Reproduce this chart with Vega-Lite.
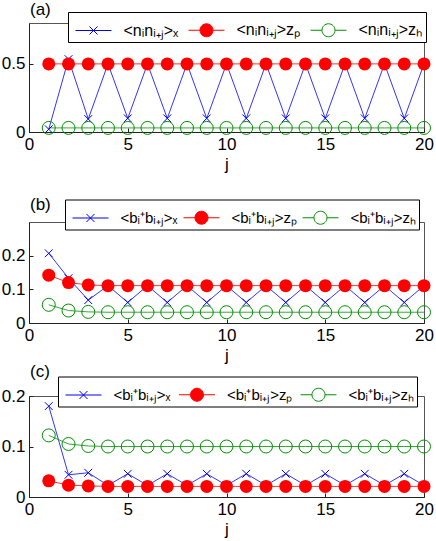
{
  "$schema": "https://vega.github.io/schema/vega-lite/v6.json",
  "padding": {"left": 0, "top": 0, "right": 0, "bottom": 0},
  "spacing": -2,
  "resolve": {"scale": {"color": "independent", "x": "independent", "y": "independent"}, "legend": {"color": "independent"}},
  "config": {
    "font": "Liberation Sans",
    "view": {"stroke": "#555555", "strokeWidth": 1},
    "axis": {"labelFont": "Liberation Sans", "labelFontSize": 17, "labelColor": "#000000", "titleFont": "Liberation Sans", "titleFontSize": 17, "titleFontWeight": "normal", "titleColor": "#000000", "domainColor": "#222222", "tickColor": "#222222", "tickSize": -4, "labelPadding": 8, "grid": false, "labelFlush": false, "format": ".1~f"},
    "axisX": {"labelPadding": 8, "titlePadding": 4},
    "title": {"font": "Liberation Sans", "fontSize": 17, "fontWeight": "normal", "anchor": "start", "frame": "group", "color": "#000000"},
    "legend": {"orient": "none", "direction": "horizontal", "title": null, "strokeColor": "#000000", "fillColor": "#ffffff", "padding": 3, "symbolSize": 841, "symbolOffset": 7.5, "symbolStrokeWidth": 1, "labelFont": "Liberation Sans", "labelFontSize": 16, "labelColor": "#000000", "labelOffset": 15, "columnPadding": 5, "labelLimit": 300}
  },
  "datasets": {
    "a": [
      {"j":1,"s":"x","v":0.02},{"j":2,"s":"x","v":0.535},{"j":3,"s":"x","v":0.095},{"j":4,"s":"x","v":0.5},{"j":5,"s":"x","v":0.1},{"j":6,"s":"x","v":0.5},{"j":7,"s":"x","v":0.1},{"j":8,"s":"x","v":0.5},{"j":9,"s":"x","v":0.1},{"j":10,"s":"x","v":0.5},{"j":11,"s":"x","v":0.1},{"j":12,"s":"x","v":0.5},{"j":13,"s":"x","v":0.1},{"j":14,"s":"x","v":0.5},{"j":15,"s":"x","v":0.1},{"j":16,"s":"x","v":0.5},{"j":17,"s":"x","v":0.1},{"j":18,"s":"x","v":0.5},{"j":19,"s":"x","v":0.1},{"j":20,"s":"x","v":0.5},
      {"j":1,"s":"zp","v":0.5},{"j":2,"s":"zp","v":0.5},{"j":3,"s":"zp","v":0.5},{"j":4,"s":"zp","v":0.5},{"j":5,"s":"zp","v":0.5},{"j":6,"s":"zp","v":0.5},{"j":7,"s":"zp","v":0.5},{"j":8,"s":"zp","v":0.5},{"j":9,"s":"zp","v":0.5},{"j":10,"s":"zp","v":0.5},{"j":11,"s":"zp","v":0.5},{"j":12,"s":"zp","v":0.5},{"j":13,"s":"zp","v":0.5},{"j":14,"s":"zp","v":0.5},{"j":15,"s":"zp","v":0.5},{"j":16,"s":"zp","v":0.5},{"j":17,"s":"zp","v":0.5},{"j":18,"s":"zp","v":0.5},{"j":19,"s":"zp","v":0.5},{"j":20,"s":"zp","v":0.5},
      {"j":1,"s":"zh","v":0.03},{"j":2,"s":"zh","v":0.03},{"j":3,"s":"zh","v":0.03},{"j":4,"s":"zh","v":0.03},{"j":5,"s":"zh","v":0.03},{"j":6,"s":"zh","v":0.03},{"j":7,"s":"zh","v":0.03},{"j":8,"s":"zh","v":0.03},{"j":9,"s":"zh","v":0.03},{"j":10,"s":"zh","v":0.03},{"j":11,"s":"zh","v":0.03},{"j":12,"s":"zh","v":0.03},{"j":13,"s":"zh","v":0.03},{"j":14,"s":"zh","v":0.03},{"j":15,"s":"zh","v":0.03},{"j":16,"s":"zh","v":0.03},{"j":17,"s":"zh","v":0.03},{"j":18,"s":"zh","v":0.03},{"j":19,"s":"zh","v":0.03},{"j":20,"s":"zh","v":0.03}
    ],
    "b": [
      {"j":1,"s":"x","v":0.207},{"j":2,"s":"x","v":0.133},{"j":3,"s":"x","v":0.068},{"j":4,"s":"x","v":0.111},{"j":5,"s":"x","v":0.061},{"j":6,"s":"x","v":0.111},{"j":7,"s":"x","v":0.061},{"j":8,"s":"x","v":0.111},{"j":9,"s":"x","v":0.061},{"j":10,"s":"x","v":0.111},{"j":11,"s":"x","v":0.061},{"j":12,"s":"x","v":0.111},{"j":13,"s":"x","v":0.061},{"j":14,"s":"x","v":0.111},{"j":15,"s":"x","v":0.061},{"j":16,"s":"x","v":0.111},{"j":17,"s":"x","v":0.061},{"j":18,"s":"x","v":0.111},{"j":19,"s":"x","v":0.061},{"j":20,"s":"x","v":0.111},
      {"j":1,"s":"zp","v":0.142},{"j":2,"s":"zp","v":0.12},{"j":3,"s":"zp","v":0.113},{"j":4,"s":"zp","v":0.111},{"j":5,"s":"zp","v":0.111},{"j":6,"s":"zp","v":0.111},{"j":7,"s":"zp","v":0.111},{"j":8,"s":"zp","v":0.111},{"j":9,"s":"zp","v":0.111},{"j":10,"s":"zp","v":0.111},{"j":11,"s":"zp","v":0.111},{"j":12,"s":"zp","v":0.111},{"j":13,"s":"zp","v":0.111},{"j":14,"s":"zp","v":0.111},{"j":15,"s":"zp","v":0.111},{"j":16,"s":"zp","v":0.111},{"j":17,"s":"zp","v":0.111},{"j":18,"s":"zp","v":0.111},{"j":19,"s":"zp","v":0.111},{"j":20,"s":"zp","v":0.111},
      {"j":1,"s":"zh","v":0.054},{"j":2,"s":"zh","v":0.037},{"j":3,"s":"zh","v":0.033},{"j":4,"s":"zh","v":0.032},{"j":5,"s":"zh","v":0.032},{"j":6,"s":"zh","v":0.032},{"j":7,"s":"zh","v":0.032},{"j":8,"s":"zh","v":0.032},{"j":9,"s":"zh","v":0.032},{"j":10,"s":"zh","v":0.032},{"j":11,"s":"zh","v":0.032},{"j":12,"s":"zh","v":0.032},{"j":13,"s":"zh","v":0.032},{"j":14,"s":"zh","v":0.032},{"j":15,"s":"zh","v":0.032},{"j":16,"s":"zh","v":0.032},{"j":17,"s":"zh","v":0.032},{"j":18,"s":"zh","v":0.032},{"j":19,"s":"zh","v":0.032},{"j":20,"s":"zh","v":0.032}
    ],
    "c": [
      {"j":1,"s":"x","v":0.18},{"j":2,"s":"x","v":0.044},{"j":3,"s":"x","v":0.048},{"j":4,"s":"x","v":0.023},{"j":5,"s":"x","v":0.046},{"j":6,"s":"x","v":0.023},{"j":7,"s":"x","v":0.046},{"j":8,"s":"x","v":0.023},{"j":9,"s":"x","v":0.046},{"j":10,"s":"x","v":0.023},{"j":11,"s":"x","v":0.046},{"j":12,"s":"x","v":0.023},{"j":13,"s":"x","v":0.046},{"j":14,"s":"x","v":0.023},{"j":15,"s":"x","v":0.046},{"j":16,"s":"x","v":0.023},{"j":17,"s":"x","v":0.046},{"j":18,"s":"x","v":0.023},{"j":19,"s":"x","v":0.046},{"j":20,"s":"x","v":0.023},
      {"j":1,"s":"zp","v":0.032},{"j":2,"s":"zp","v":0.0235},{"j":3,"s":"zp","v":0.022},{"j":4,"s":"zp","v":0.021},{"j":5,"s":"zp","v":0.021},{"j":6,"s":"zp","v":0.021},{"j":7,"s":"zp","v":0.021},{"j":8,"s":"zp","v":0.021},{"j":9,"s":"zp","v":0.021},{"j":10,"s":"zp","v":0.021},{"j":11,"s":"zp","v":0.021},{"j":12,"s":"zp","v":0.021},{"j":13,"s":"zp","v":0.021},{"j":14,"s":"zp","v":0.021},{"j":15,"s":"zp","v":0.021},{"j":16,"s":"zp","v":0.021},{"j":17,"s":"zp","v":0.021},{"j":18,"s":"zp","v":0.021},{"j":19,"s":"zp","v":0.021},{"j":20,"s":"zp","v":0.021},
      {"j":1,"s":"zh","v":0.122},{"j":2,"s":"zh","v":0.105},{"j":3,"s":"zh","v":0.101},{"j":4,"s":"zh","v":0.1},{"j":5,"s":"zh","v":0.1},{"j":6,"s":"zh","v":0.1},{"j":7,"s":"zh","v":0.1},{"j":8,"s":"zh","v":0.1},{"j":9,"s":"zh","v":0.1},{"j":10,"s":"zh","v":0.1},{"j":11,"s":"zh","v":0.1},{"j":12,"s":"zh","v":0.1},{"j":13,"s":"zh","v":0.1},{"j":14,"s":"zh","v":0.1},{"j":15,"s":"zh","v":0.1},{"j":16,"s":"zh","v":0.1},{"j":17,"s":"zh","v":0.1},{"j":18,"s":"zh","v":0.1},{"j":19,"s":"zh","v":0.1},{"j":20,"s":"zh","v":0.1}
    ]
  },
  "vconcat": [
    {
      "width": 395, "height": 109,
      "title": {"text": "(a)", "offset": -7, "dx": 1},
      "data": {"name": "a"},
      "encoding": {
        "x": {"field": "j", "type": "quantitative", "scale": {"domain": [0, 20], "nice": false}, "axis": {"values": [0, 5, 10, 15, 20], "title": ["j", ""], "titleLineHeight": 24}},
        "y": {"field": "v", "type": "quantitative", "scale": {"domain": [0, 0.8], "nice": false}, "axis": {"values": [0, 0.5], "title": null}},
        "color": {"field": "s", "type": "nominal", "scale": {"domain": ["x", "zp", "zh"], "range": ["#0000ff", "#ff0000", "#009000"]},
          "legend": {"legendX": 39, "legendY": -11,
            "labelExpr": "datum.value === 'x' ? '<nᵢnᵢ₊ⱼ>ₓ' : datum.value === 'zp' ? '<nᵢnᵢ₊ⱼ>zₚ' : '<nᵢnᵢ₊ⱼ>zₕ'",
            "encode": {"symbols": {"update": {
              "shape": {"signal": "datum.index === 0 ? 'M-1.241,0L1.241,0M-0.276,-0.276L0.276,0.276M-0.276,0.276L0.276,-0.276' : 'M-1.241,0L-0.448,0A0.448,0.448 0 1,1 0.448,0A0.448,0.448 0 1,1 -0.448,0M0.448,0L1.241,0'"},
              "fillOpacity": {"signal": "datum.index === 1 ? 1 : 0"},
              "fill": {"signal": "datum.index === 1 ? '#ff0000' : 'transparent'"},
              "stroke": {"signal": "datum.index === 0 ? '#0000ff' : datum.index === 1 ? '#ff0000' : '#009000'"},
              "opacity": {"value": 1}}}}}}
      },
      "layer": [
        {"mark": {"type": "line", "strokeWidth": 0.8}},
        {"transform": [{"filter": "datum.s === 'x'"}], "mark": {"type": "point", "shape": "M-0.6,-0.6L0.6,0.6M-0.6,0.6L0.6,-0.6", "size": 169, "opacity": 1, "strokeWidth": 1}},
        {"transform": [{"filter": "datum.s === 'zp'"}], "mark": {"type": "point", "shape": "circle", "filled": true, "size": 169, "opacity": 1, "strokeWidth": 1}},
        {"transform": [{"filter": "datum.s === 'zh'"}], "mark": {"type": "point", "shape": "circle", "size": 169, "opacity": 1, "strokeWidth": 1}}
      ]
    },
    {
      "width": 395, "height": 101,
      "title": {"text": "(b)", "offset": -15, "dx": 1},
      "data": {"name": "b"},
      "encoding": {
        "x": {"field": "j", "type": "quantitative", "scale": {"domain": [0, 20], "nice": false}, "axis": {"values": [0, 5, 10, 15, 20], "title": "j"}},
        "y": {"field": "v", "type": "quantitative", "scale": {"domain": [0, 0.3], "nice": false}, "axis": {"values": [0, 0.1, 0.2], "title": null}},
        "color": {"field": "s", "type": "nominal", "scale": {"domain": ["x", "zp", "zh"], "range": ["#0000ff", "#ff0000", "#009000"]},
          "legend": {"legendX": 36, "legendY": -22.5, "labelFontSize": 15, "columnPadding": 1,
            "labelExpr": "datum.value === 'x' ? '<bᵢ⁺bᵢ₊ⱼ>ₓ' : datum.value === 'zp' ? '<bᵢ⁺bᵢ₊ⱼ>zₚ' : '<bᵢ⁺bᵢ₊ⱼ>zₕ'",
            "encode": {"symbols": {"update": {
              "shape": {"signal": "datum.index === 0 ? 'M-1.241,0L1.241,0M-0.276,-0.276L0.276,0.276M-0.276,0.276L0.276,-0.276' : 'M-1.241,0L-0.448,0A0.448,0.448 0 1,1 0.448,0A0.448,0.448 0 1,1 -0.448,0M0.448,0L1.241,0'"},
              "fillOpacity": {"signal": "datum.index === 1 ? 1 : 0"},
              "fill": {"signal": "datum.index === 1 ? '#ff0000' : 'transparent'"},
              "stroke": {"signal": "datum.index === 0 ? '#0000ff' : datum.index === 1 ? '#ff0000' : '#009000'"},
              "opacity": {"value": 1}}}}}}
      },
      "layer": [
        {"mark": {"type": "line", "strokeWidth": 0.8}},
        {"transform": [{"filter": "datum.s === 'x'"}], "mark": {"type": "point", "shape": "M-0.6,-0.6L0.6,0.6M-0.6,0.6L0.6,-0.6", "size": 169, "opacity": 1, "strokeWidth": 1}},
        {"transform": [{"filter": "datum.s === 'zp'"}], "mark": {"type": "point", "shape": "circle", "filled": true, "size": 169, "opacity": 1, "strokeWidth": 1}},
        {"transform": [{"filter": "datum.s === 'zh'"}], "mark": {"type": "point", "shape": "circle", "size": 169, "opacity": 1, "strokeWidth": 1}}
      ]
    },
    {
      "width": 395, "height": 101,
      "title": {"text": "(c)", "offset": -5, "dx": 1},
      "data": {"name": "c"},
      "encoding": {
        "x": {"field": "j", "type": "quantitative", "scale": {"domain": [0, 20], "nice": false}, "axis": {"values": [0, 5, 10, 15, 20], "title": "j"}},
        "y": {"field": "v", "type": "quantitative", "scale": {"domain": [0, 0.2], "nice": false}, "axis": {"values": [0, 0.1, 0.2], "title": null}},
        "color": {"field": "s", "type": "nominal", "scale": {"domain": ["x", "zp", "zh"], "range": ["#0000ff", "#ff0000", "#009000"]},
          "legend": {"legendX": 29, "legendY": -19.5, "labelFontSize": 15, "columnPadding": 3.5,
            "labelExpr": "datum.value === 'x' ? '<bᵢ⁺bᵢ₊ⱼ>ₓ' : datum.value === 'zp' ? '<bᵢ⁺bᵢ₊ⱼ>zₚ' : '<bᵢ⁺bᵢ₊ⱼ>zₕ'",
            "encode": {"symbols": {"update": {
              "shape": {"signal": "datum.index === 0 ? 'M-1.241,0L1.241,0M-0.276,-0.276L0.276,0.276M-0.276,0.276L0.276,-0.276' : 'M-1.241,0L-0.448,0A0.448,0.448 0 1,1 0.448,0A0.448,0.448 0 1,1 -0.448,0M0.448,0L1.241,0'"},
              "fillOpacity": {"signal": "datum.index === 1 ? 1 : 0"},
              "fill": {"signal": "datum.index === 1 ? '#ff0000' : 'transparent'"},
              "stroke": {"signal": "datum.index === 0 ? '#0000ff' : datum.index === 1 ? '#ff0000' : '#009000'"},
              "opacity": {"value": 1}}}}}}
      },
      "layer": [
        {"mark": {"type": "line", "strokeWidth": 0.8}},
        {"transform": [{"filter": "datum.s === 'x'"}], "mark": {"type": "point", "shape": "M-0.6,-0.6L0.6,0.6M-0.6,0.6L0.6,-0.6", "size": 169, "opacity": 1, "strokeWidth": 1}},
        {"transform": [{"filter": "datum.s === 'zp'"}], "mark": {"type": "point", "shape": "circle", "filled": true, "size": 169, "opacity": 1, "strokeWidth": 1}},
        {"transform": [{"filter": "datum.s === 'zh'"}], "mark": {"type": "point", "shape": "circle", "size": 169, "opacity": 1, "strokeWidth": 1}}
      ]
    }
  ]
}
